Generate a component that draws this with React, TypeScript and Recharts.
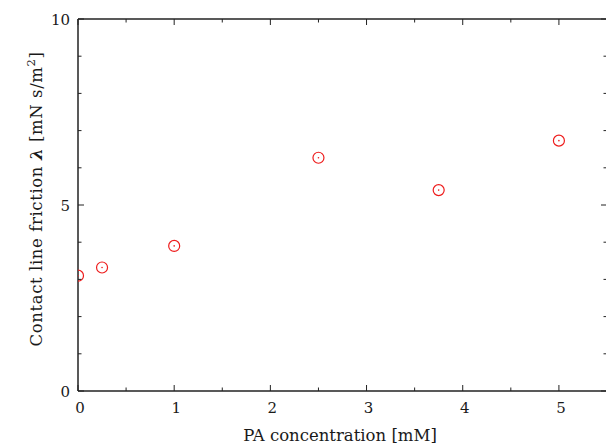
import React from "react";
import { ScatterChart, Scatter, XAxis, YAxis } from "recharts";

const concentrations = [0, 0.25, 1, 2.5, 3.75, 5];
const friction = [3.1, 3.32, 3.9, 6.27, 5.4, 6.73];
const xTicks = [0, 0.5, 1, 1.5, 2, 2.5, 3, 3.5, 4, 4.5, 5, 5.5];
const yTicks = [0, 1, 2, 3, 4, 5, 6, 7, 8, 9, 10];
const xLabelTicks = [0, 1, 2, 3, 4, 5];
const yLabelTicks = [0, 5, 10];

const data = concentrations.map((c, i) => ({ x: c, y: friction[i] }));

const FONT = "DejaVu Serif, Liberation Serif, serif";
const W = 610;
const H = 445;
const tickStyle = { fontFamily: FONT, fontSize: 15, fill: "#1a1a1a" };
const labelStyle = { fontFamily: FONT, fontSize: 16.5, fill: "#1a1a1a" };

const BottomTick = (props: any) => {
  const { x, y, payload } = props;
  const v = payload.value;
  const major = xLabelTicks.includes(v);
  return (
    <g>
      <line x1={x} x2={x} y1={y} y2={y - (major ? 6 : 3.5)} stroke="#222" strokeWidth={1} />
      {major && (
        <text x={x + 2} y={y + 22} textAnchor="middle" style={tickStyle}>
          {v}
        </text>
      )}
    </g>
  );
};

const TopTick = (props: any) => {
  const { x, y, payload } = props;
  const v = payload.value;
  const major = xLabelTicks.includes(v);
  return <line x1={x} x2={x} y1={y} y2={y + (major ? 6 : 3.5)} stroke="#222" strokeWidth={1} />;
};

const LeftTick = (props: any) => {
  const { x, y, payload } = props;
  const v = payload.value;
  const major = yLabelTicks.includes(v);
  return (
    <g>
      <line x1={x} x2={x + (major ? 6 : 3.5)} y1={y} y2={y} stroke="#222" strokeWidth={1} />
      {major && (
        <text x={x - 8} y={y + 5.5} textAnchor="end" style={tickStyle}>
          {v}
        </text>
      )}
    </g>
  );
};

const RightTick = (props: any) => {
  const { x, y, payload } = props;
  const v = payload.value;
  const major = yLabelTicks.includes(v);
  return <line x1={x} x2={x - (major ? 6 : 3.5)} y1={y} y2={y} stroke="#222" strokeWidth={1} />;
};

const Marker = (props: any) => {
  const { cx, cy } = props;
  return (
    <g>
      <circle cx={cx} cy={cy} r={5.5} fill="none" stroke="#ee1c1c" strokeWidth={1.2} />
      <circle cx={cx} cy={cy} r={0.8} fill="#ee1c1c" />
    </g>
  );
};

export default function App() {
  return (
    <div style={{ position: "absolute", left: 0, top: 0, width: W, height: H, background: "#fff" }}>
      <ScatterChart width={W} height={H} margin={{ top: 18, right: 2, bottom: 0, left: 0 }}>
        <XAxis
          xAxisId="b"
          dataKey="x"
          type="number"
          domain={[0, 5.5]}
          ticks={xTicks}
          interval={0}
          tickSize={0}
          tickMargin={0}
          tick={<BottomTick />}
          tickLine={false}
          axisLine={{ stroke: "#222", strokeWidth: 1.5 }}
          orientation="bottom"
          height={54}
          allowDataOverflow
        />
        <XAxis
          xAxisId="t"
          dataKey="x"
          type="number"
          domain={[0, 5.5]}
          ticks={xTicks}
          interval={0}
          tickSize={0}
          tickMargin={0}
          tick={<TopTick />}
          tickLine={false}
          axisLine={{ stroke: "#222", strokeWidth: 1.5 }}
          orientation="top"
          height={1}
          allowDataOverflow
        />
        <YAxis
          yAxisId="l"
          dataKey="y"
          type="number"
          domain={[0, 10]}
          ticks={yTicks}
          interval={0}
          tickSize={0}
          tickMargin={0}
          tick={<LeftTick />}
          tickLine={false}
          axisLine={{ stroke: "#222", strokeWidth: 1.5 }}
          orientation="left"
          width={78}
          allowDataOverflow
        />
        <YAxis
          yAxisId="r"
          dataKey="y"
          type="number"
          domain={[0, 10]}
          ticks={yTicks}
          interval={0}
          tickSize={0}
          tickMargin={0}
          tick={<RightTick />}
          tickLine={false}
          axisLine={{ stroke: "#222", strokeWidth: 1.5 }}
          orientation="right"
          width={1}
          allowDataOverflow
        />
        <Scatter
          xAxisId="b"
          yAxisId="l"
          data={data}
          shape={<Marker />}
          isAnimationActive={false}
        />
        <text x={340} y={441} textAnchor="middle" style={labelStyle}>
          PA concentration [mM]
        </text>
        <text
          transform="translate(42,199) rotate(-90)"
          textAnchor="middle"
          style={{ ...labelStyle, letterSpacing: 0.6 }}
        >
          Contact line friction{" "}
          <tspan fontWeight="bold" fontStyle="italic">λ</tspan> [mN s/m
          <tspan dy={-7} fontSize={11.5}>2</tspan>
          <tspan dy={7}>]</tspan>
        </text>
      </ScatterChart>
    </div>
  );
}
